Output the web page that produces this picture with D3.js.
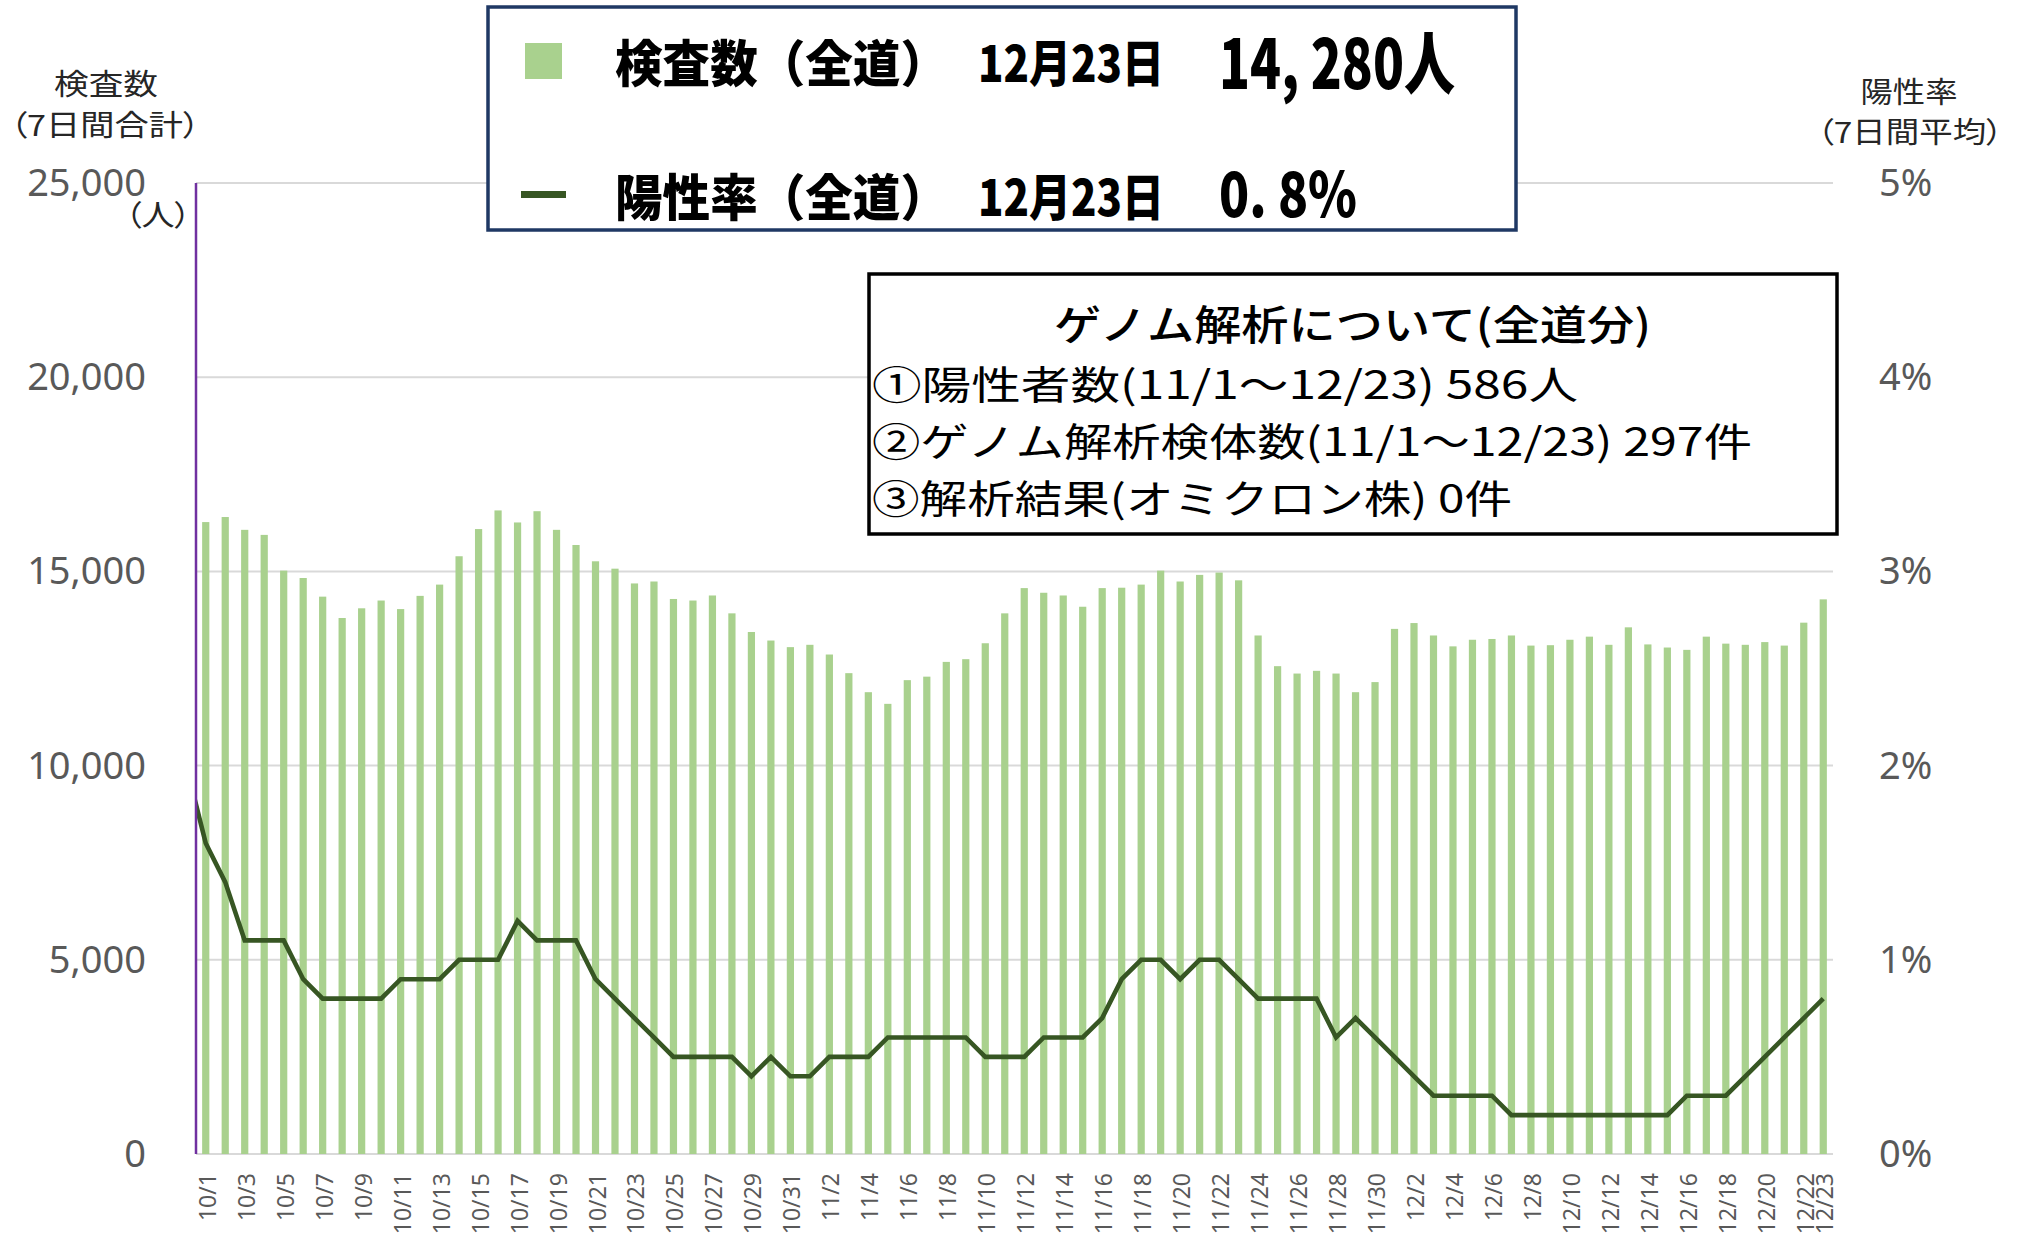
<!DOCTYPE html>
<html>
<head>
<meta charset="utf-8">
<script src="https://cdn.jsdelivr.net/npm/d3@7"></script>
<style>
  html, body { margin: 0; padding: 0; background: #ffffff; }
  svg { display: block; }
  .palt { font-feature-settings: "palt" 1; }
</style>
</head>
<body>
<svg id="chart" width="2022" height="1235"></svg>
<script>
// ---------------- DATA ----------------
const dates = [
  "10/1","10/2","10/3","10/4","10/5","10/6","10/7","10/8","10/9","10/10",
  "10/11","10/12","10/13","10/14","10/15","10/16","10/17","10/18","10/19","10/20",
  "10/21","10/22","10/23","10/24","10/25","10/26","10/27","10/28","10/29","10/30",
  "10/31","11/1","11/2","11/3","11/4","11/5","11/6","11/7","11/8","11/9",
  "11/10","11/11","11/12","11/13","11/14","11/15","11/16","11/17","11/18","11/19",
  "11/20","11/21","11/22","11/23","11/24","11/25","11/26","11/27","11/28","11/29",
  "11/30","12/1","12/2","12/3","12/4","12/5","12/6","12/7","12/8","12/9",
  "12/10","12/11","12/12","12/13","12/14","12/15","12/16","12/17","12/18","12/19",
  "12/20","12/21","12/22","12/23"
];

// 検査数（7日間合計）
const tests = [
  16270,16400,16070,15940,15020,14830,14350,13800,14050,14250,
  14030,14370,14660,15390,16090,16570,16260,16550,16070,15680,
  15260,15070,14690,14740,14290,14250,14380,13920,13440,13220,
  13050,13110,12860,12380,11890,11590,12200,12290,12670,12740,
  13150,13920,14570,14450,14380,14090,14570,14580,14660,15020,
  14740,14910,14970,14770,13350,12560,12370,12440,12370,11890,
  12150,13520,13670,13350,13070,13240,13260,13350,13090,13100,
  13240,13320,13110,13560,13120,13040,12980,13320,13140,13110,
  13180,13090,13680,14280
];

// 陽性率（7日間平均, %）
const rates = [
  1.6,1.4,1.1,1.1,1.1,0.9,0.8,0.8,0.8,0.8,
  0.9,0.9,0.9,1.0,1.0,1.0,1.2,1.1,1.1,1.1,
  0.9,0.8,0.7,0.6,0.5,0.5,0.5,0.5,0.4,0.5,
  0.4,0.4,0.5,0.5,0.5,0.6,0.6,0.6,0.6,0.6,
  0.5,0.5,0.5,0.6,0.6,0.6,0.7,0.9,1.0,1.0,
  0.9,1.0,1.0,0.9,0.8,0.8,0.8,0.8,0.6,0.7,
  0.6,0.5,0.4,0.3,0.3,0.3,0.3,0.2,0.2,0.2,
  0.2,0.2,0.2,0.2,0.2,0.2,0.3,0.3,0.3,0.4,
  0.5,0.6,0.7,0.8
];
// value of the day before the first category (line enters from the left edge, clipped)
const rateBefore = 2.0;

const leftTicks = [0, 5000, 10000, 15000, 20000, 25000];
const rightTicks = [0, 1, 2, 3, 4, 5];

const legendRows = [
  { name: "検査数（全道）", date: "12月23日", value: "14, 280人" },
  { name: "陽性率（全道）", date: "12月23日", value: "0. 8%" }
];
const genomeTitle = "ゲノム解析について(全道分)";
const genomeLines = [
  "①陽性者数(11/1～12/23)  586人",
  "②ゲノム解析検体数(11/1～12/23)  297件",
  "③解析結果(オミクロン株)  0件"
];

// ---------------- LAYOUT ----------------
const svg = d3.select("#chart");
const plot = { left: 196, right: 1833, top: 183, bottom: 1154 };
const barColor = "#a9d18e";
const lineColor = "#375623";
const gridColor = "#d9d9d9";
const tickColor = "#595959";
const latin = "'Noto Sans', 'Open Sans', sans-serif";
const cjk = "'Noto Sans CJK JP', 'Noto Sans', sans-serif";

const x = d3.scaleBand().domain(dates).range([plot.left, plot.right])
  .paddingInner(0.63).paddingOuter(0.315);
const yL = d3.scaleLinear().domain([0, 25000]).range([plot.bottom, plot.top]);
const yR = d3.scaleLinear().domain([0, 5]).range([plot.bottom, plot.top]);
const cx = d => x(d) + x.bandwidth() / 2;

// gridlines
svg.append("g").selectAll("line").data(leftTicks).join("line")
  .attr("x1", plot.left).attr("x2", plot.right)
  .attr("y1", d => yL(d)).attr("y2", d => yL(d))
  .attr("stroke", gridColor).attr("stroke-width", 2);

// bars
svg.append("g").selectAll("rect").data(tests).join("rect")
  .attr("x", (d, i) => x(dates[i]))
  .attr("width", x.bandwidth())
  .attr("y", d => yL(d))
  .attr("height", d => yL(0) - yL(d))
  .attr("fill", barColor);

// line (clipped to plot area)
svg.append("clipPath").attr("id", "plotClip").append("rect")
  .attr("x", plot.left).attr("y", plot.top - 10)
  .attr("width", plot.right - plot.left + 10).attr("height", plot.bottom - plot.top + 10);

const linePts = [[cx(dates[0]) - x.step(), rateBefore]]
  .concat(rates.map((r, i) => [cx(dates[i]), r]));
svg.append("path").datum(linePts)
  .attr("clip-path", "url(#plotClip)")
  .attr("fill", "none").attr("stroke", lineColor).attr("stroke-width", 4.6)
  .attr("stroke-linejoin", "miter")
  .attr("d", d3.line().x(d => d[0]).y(d => yR(d[1])));

// left axis line (purple)
svg.append("line")
  .attr("x1", plot.left).attr("x2", plot.left)
  .attr("y1", plot.top).attr("y2", plot.bottom)
  .attr("stroke", "#7030a0").attr("stroke-width", 2.5);

// left tick labels
const fmt = d3.format(",");
svg.append("g").selectAll("text").data(leftTicks).join("text")
  .attr("x", 146).attr("y", d => yL(d) - 2)
  .attr("text-anchor", "end").attr("dominant-baseline", "central")
  .attr("font-family", latin).attr("font-size", 38).attr("fill", tickColor)
  .text(d => fmt(d));

// right tick labels
svg.append("g").selectAll("text").data(rightTicks).join("text")
  .attr("x", 1879).attr("y", d => yR(d) - 2)
  .attr("text-anchor", "start").attr("dominant-baseline", "central")
  .attr("font-family", latin).attr("font-size", 38).attr("fill", tickColor)
  .text(d => d + "%");

// x tick labels (every other date + last)
const shown = dates.filter((d, i) => i % 2 === 0 || i === dates.length - 1);
svg.append("g").selectAll("text").data(shown).join("text")
  .attr("transform", d => `translate(${cx(d) + 1},${plot.bottom + 19}) rotate(-90)`)
  .attr("text-anchor", "end").attr("dominant-baseline", "central")
  .attr("font-family", latin).attr("font-size", 23).attr("fill", tickColor)
  .text(d => d);

// axis titles
const axisTitle = (txt, xx, yy, w) => svg.append("text")
  .attr("class", "palt")
  .attr("x", xx - w / 2).attr("y", yy)
  .attr("dominant-baseline", "central")
  .attr("font-family", cjk).attr("font-size", 29).attr("fill", "#262626")
  .attr("textLength", w).attr("lengthAdjust", "spacingAndGlyphs")
  .text(txt);
axisTitle("検査数", 106, 82, 104);
axisTitle("（7日間合計）", 105, 123, 190);
axisTitle("（人）", 158, 213, 66);
axisTitle("陽性率", 1909, 90, 97);
axisTitle("（7日間平均）", 1910, 130, 186);

// ---------------- LEGEND BOX ----------------
svg.append("rect").attr("x", 488).attr("y", 7).attr("width", 1028).attr("height", 223)
  .attr("fill", "#ffffff").attr("stroke", "#1f3864").attr("stroke-width", 3.5);
svg.append("rect").attr("x", 525).attr("y", 43).attr("width", 37).attr("height", 36)
  .attr("fill", barColor);
svg.append("rect").attr("x", 521).attr("y", 191).attr("width", 45).attr("height", 7)
  .attr("fill", lineColor);

const rowY = [60, 194];
legendRows.forEach((r, i) => {
  const g = svg.append("g").attr("font-family", cjk).attr("font-weight", 900).attr("fill", "#000");
  g.append("text").attr("x", 615).attr("y", rowY[i]).attr("dominant-baseline", "central")
    .attr("font-size", 50).attr("textLength", 333).attr("lengthAdjust", "spacingAndGlyphs").text(r.name);
  g.append("text").attr("x", 978).attr("y", rowY[i]).attr("dominant-baseline", "central")
    .attr("font-size", 50).attr("textLength", 186).attr("lengthAdjust", "spacingAndGlyphs").text(r.date);
  g.append("text").attr("x", 1219).attr("y", rowY[i] - (i === 0 ? 1 : 4)).attr("dominant-baseline", "central")
    .attr("font-size", i === 0 ? 68 : 62)
    .attr("textLength", i === 0 ? 236 : 138).attr("lengthAdjust", "spacingAndGlyphs").text(r.value);
});

// ---------------- GENOME BOX ----------------
svg.append("rect").attr("x", 869).attr("y", 274).attr("width", 968).attr("height", 260)
  .attr("fill", "#ffffff").attr("stroke", "#000000").attr("stroke-width", 3.5);
svg.append("text").attr("x", 1054).attr("y", 322).attr("dominant-baseline", "central")
  .attr("font-family", cjk).attr("font-weight", 500).attr("font-size", 41).attr("fill", "#000")
  .attr("textLength", 597).attr("lengthAdjust", "spacingAndGlyphs").text(genomeTitle);
const gLineY = [382, 439, 496];
const gLineW = [706, 880, 640];
genomeLines.forEach((t, i) => {
  svg.append("text").attr("x", 872).attr("y", gLineY[i]).attr("dominant-baseline", "central")
    .attr("font-family", cjk).attr("font-size", 39).attr("fill", "#000")
    .attr("textLength", gLineW[i]).attr("lengthAdjust", "spacingAndGlyphs").text(t);
});
</script>
</body>
</html>
